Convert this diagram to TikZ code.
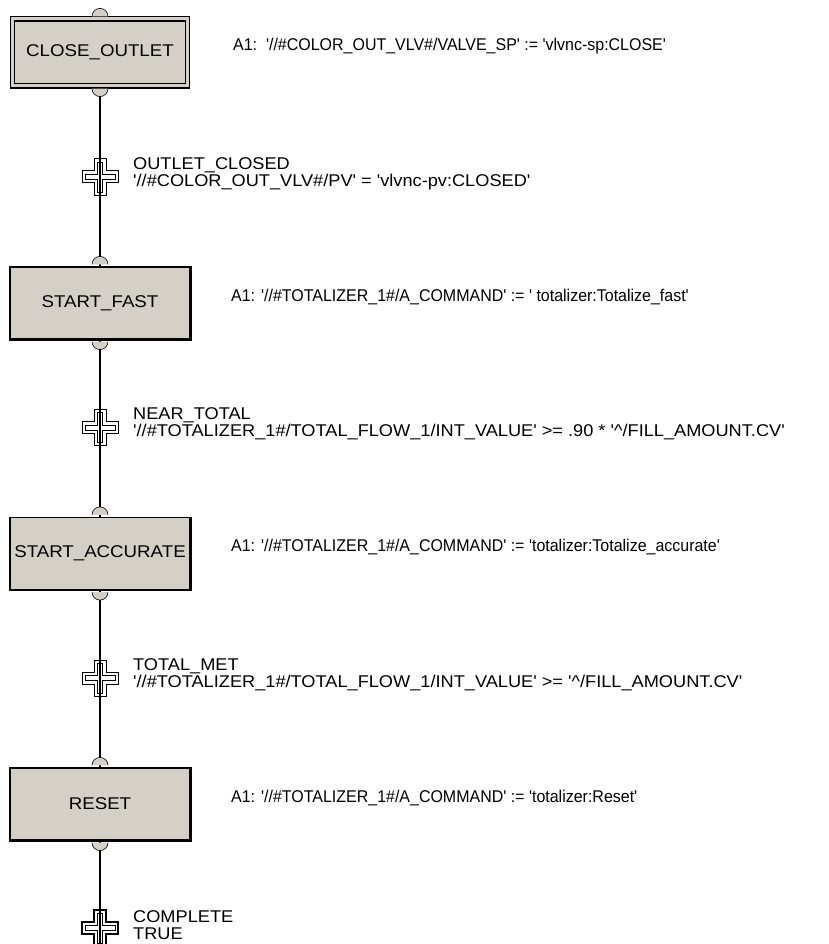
\documentclass[tikz,border=0pt]{standalone}
\usepackage{fontspec}
\newfontfamily\uifont[FakeStretch=0.94]{Liberation Sans}
\newfontfamily\condfont[FakeStretch=1.07]{Liberation Sans}
\newfontfamily\stepfont[FakeStretch=1.1]{Liberation Sans}
\usetikzlibrary{calc}
\definecolor{stepgray}{RGB}{212,208,200}
\tikzset{
  stepbox/.style={draw=black,fill=stepgray,line width=1.2pt,minimum width=180pt,minimum height=72pt,inner sep=0pt,font=\stepfont\fontsize{17}{18}\selectfont},
  initbox/.style={stepbox,minimum width=175pt,minimum height=67pt,double=stepgray,double distance=3pt},
  note/.style={anchor=west,inner sep=0pt,align=left,font=\uifont\fontsize{17}{18}\selectfont},
  cond/.style={note,font=\condfont\fontsize{17}{17}\selectfont},
  link/.style={line width=1.2pt},
  joint/.style={fill=stepgray,draw=black,line width=0.6pt},
  crossline/.style={draw=black,fill=white,line width=1pt}
}

\begin{document}
\begin{tikzpicture}[x=1pt,y=-1pt]
    \useasboundingbox (0,0) rectangle (829,944);
    % steps
    \node[initbox] (closeout) at (100,52.5) {CLOSE\_OUTLET};
    \node[stepbox] (startfast) at (100,303) {START\_FAST};
    \node[stepbox] (startacc) at (100,553.5) {START\_ACCURATE};
    \node[stepbox] (reset) at (100,804) {RESET};
    \foreach \s in {startfast,startacc,reset}
      \draw[line width=1pt] ($(\s.north east)+(0.6,0)$) -- ($(\s.south east)+(0.6,0.6)$) -- ($(\s.south west)+(0,0.6)$);
    % transitions
    \coordinate (tclosed) at (100,177);
    \coordinate (tnear) at (100,427.5);
    \coordinate (tmet) at (100,678);
    \coordinate (tdone) at (100,928);
    \coordinate (tail) at (100,944);
    \foreach \t/\w in {tclosed/1,tnear/1,tmet/1,tdone/1.8}{
      \draw[crossline,line width=\w pt] (\t) ++(-6,-18) -- ++(12,0) -- ++(0,12) -- ++(12,0) -- ++(0,12) -- ++(-12,0) -- ++(0,12) -- ++(-12,0) -- ++(0,-12) -- ++(-12,0) -- ++(0,-12) -- ++(12,0) -- cycle;
      \draw[line width=0.6pt] (\t) ++(-2.5,-15) -- ++(5,0) -- ++(0,12.5) -- ++(12.5,0) -- ++(0,5) -- ++(-12.5,0) -- ++(0,12.5) -- ++(-5,0) -- ++(0,-12.5) -- ++(-12.5,0) -- ++(0,-5) -- ++(12.5,0) -- cycle;
    }
    % links
    \draw[link] (closeout.south) -- (tclosed) -- (startfast.north);
    \draw[link] (startfast.south) -- (tnear) -- (startacc.north);
    \draw[link] (startacc.south) -- (tmet) -- (reset.north);
    \draw[link] (reset.south) -- (tdone) -- (tail);
    % joints on the steps
    \foreach \s in {closeout,startfast,startacc,reset}{
      \draw[joint] ($(\s.north)+(-8,-2)$) arc[start angle=180,end angle=360,radius=8];
      \draw[joint] ($(\s.south)+(-8,2)$) arc[start angle=180,end angle=0,radius=8];
    }
    % actions
    \node[note] (a1close) at (233,46.5) {A1:\ \ '//\#COLOR\_OUT\_VLV\#/VALVE\_SP' := 'vlvnc-sp:CLOSE'};
    \node[note] (a1fast) at (231,297) {A1: '//\#TOTALIZER\_1\#/A\_COMMAND' := ' totalizer:Totalize\_fast'};
    \node[note] (a1acc) at (231,547.5) {A1: '//\#TOTALIZER\_1\#/A\_COMMAND' := 'totalizer:Totalize\_accurate'};
    \node[note] (a1reset) at (231,798) {A1: '//\#TOTALIZER\_1\#/A\_COMMAND' := 'totalizer:Reset'};
    % conditions
    \node[cond] (lclosed) at (133,173.5) {OUTLET\_CLOSED\\'//\#COLOR\_OUT\_VLV\#/PV' = 'vlvnc-pv:CLOSED'};
    \node[cond] (lnear) at (133,424) {NEAR\_TOTAL\\'//\#TOTALIZER\_1\#/TOTAL\_FLOW\_1/INT\_VALUE' >= .90 * '\textasciicircum/FILL\_AMOUNT.CV'};
    \node[cond] (lmet) at (133,674.5) {TOTAL\_MET\\'//\#TOTALIZER\_1\#/TOTAL\_FLOW\_1/INT\_VALUE' >= '\textasciicircum/FILL\_AMOUNT.CV'};
    \node[cond] (ldone) at (133,925) {COMPLETE\\TRUE};
  \end{tikzpicture}
\end{document}
